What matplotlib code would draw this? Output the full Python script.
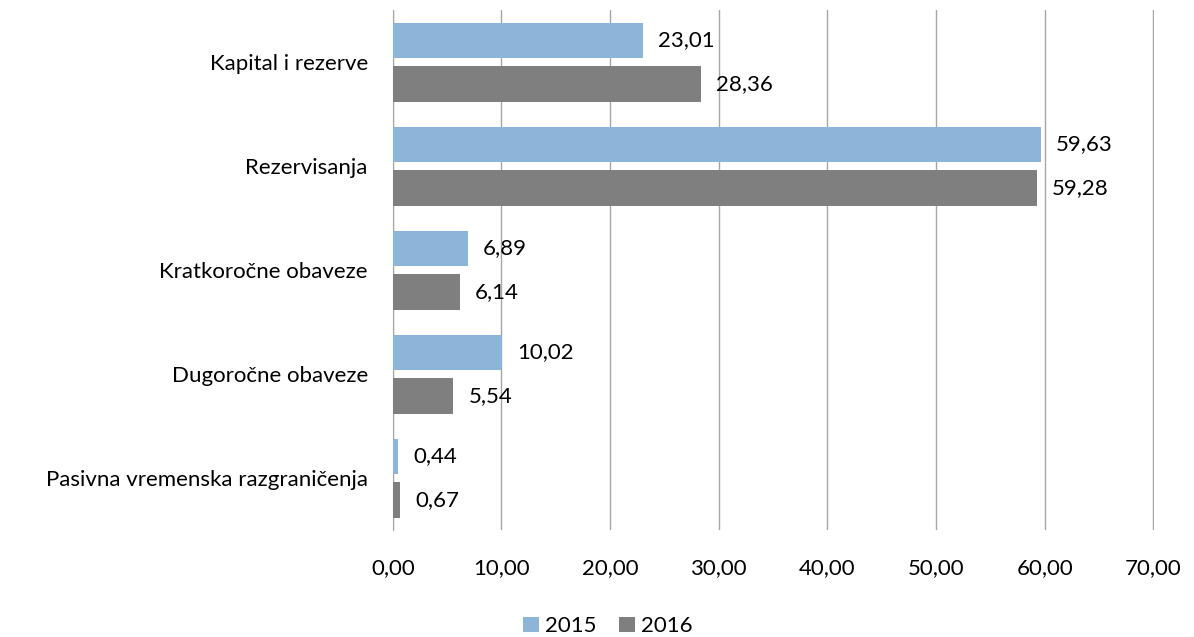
import numpy as np
import matplotlib.pyplot as plt

plt.rcParams['font.family'] = ['Lato', 'DejaVu Sans']

categories = ['Kapital i rezerve', 'Rezervisanja', 'Kratkoročne obaveze',
              'Dugoročne obaveze', 'Pasivna vremenska razgraničenja']
v2015 = [23.01, 59.63, 6.89, 10.02, 0.44]
v2016 = [28.36, 59.28, 6.14, 5.54, 0.67]
xticks = [0, 10, 20, 30, 40, 50, 60, 70]

fig = plt.figure(figsize=(11.94, 6.37), dpi=100)
ax = fig.add_axes([0.329, 0.168, 0.6375, 0.816])

y = np.arange(len(categories))
h = 0.34
b1 = ax.barh(y - 0.21, v2015, height=h, color='#8DB4D9', label='2015', zorder=3)
b2 = ax.barh(y + 0.21, v2016, height=h, color='#7F7F7F', label='2016', zorder=3)

fmt = lambda v: f'{v:.2f}'.replace('.', ',')
for bars, vals in [(b1, v2015), (b2, v2016)]:
    for bar, v in zip(bars, vals):
        ax.annotate(fmt(v), (bar.get_width(), bar.get_y() + bar.get_height() / 2),
                    xytext=(11, 0), textcoords='offset points', va='center',
                    fontsize=16, color='#000000')

ax.set_ylim(len(categories) - 0.5, -0.5)
ax.set_xlim(0, 70.05)
ax.set_xticks(xticks)
ax.set_xticklabels([fmt(t) for t in xticks], fontsize=16)
ax.set_yticks(y)
ax.set_yticklabels(categories, fontsize=16)
ax.tick_params(length=0, pad=18)
ax.tick_params(axis='x', pad=20)
ax.grid(axis='x', color='#A6A6A6', linewidth=1, zorder=0)
for s in ['top', 'right', 'bottom']:
    ax.spines[s].set_visible(False)
ax.spines['left'].set_color('#A6A6A6')

leg = ax.legend(loc='lower center', bbox_to_anchor=(608 / 1194, -0.03),
                bbox_transform=fig.transFigure, ncol=2, frameon=False,
                fontsize=16, handlelength=0.7, handleheight=0.7, columnspacing=1.0,
                handletextpad=0.3)

fig.savefig('out.png', dpi=100)
